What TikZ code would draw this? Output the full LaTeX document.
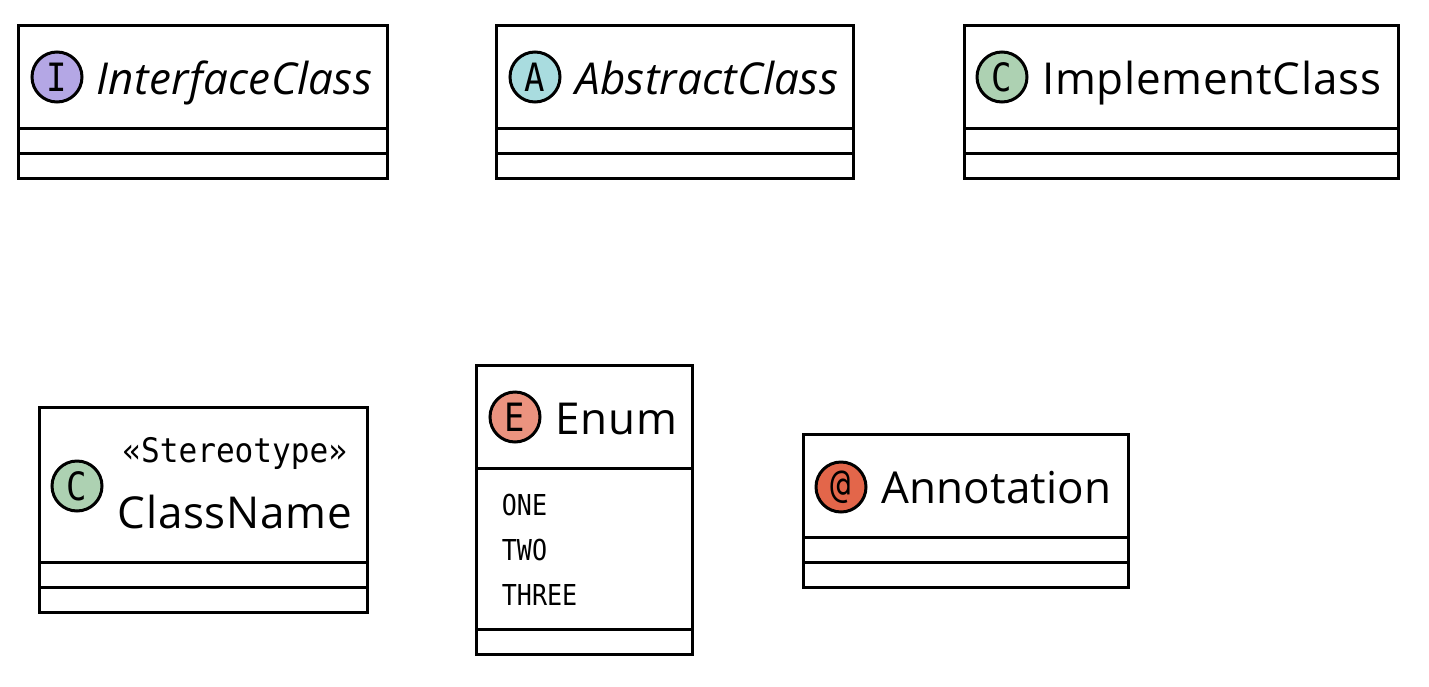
\documentclass[tikz,border=0pt]{standalone}
\usepackage{fontspec}
\setmainfont{Open Sans}
\setmonofont{DejaVu Sans Mono}
\newfontfamily\narrowmono[FakeStretch=0.92]{DejaVu Sans Mono}
\newfontfamily\slimmono[FakeStretch=0.87]{DejaVu Sans Mono}
\definecolor{ifacefill}{HTML}{B4A7E5}
\definecolor{absfill}{HTML}{A9DCDF}
\definecolor{implfill}{HTML}{ADD1B2}
\definecolor{enumfill}{HTML}{EB937F}
\definecolor{annofill}{HTML}{E3664A}
\newcommand{\tracked}[2]{\addfontfeature{LetterSpace=#1}#2}
\tikzset{
  classbox/.style={draw=black,line width=1.5pt},
  spot/.style={circle,draw=black,line width=1.5pt,minimum size=25pt,inner sep=0pt,font=\fontsize{19.5}{19.5}\selectfont\slimmono},
  title/.style={anchor=base west,inner sep=0pt,font=\fontsize{22}{22}\selectfont},
  small/.style={anchor=base west,inner sep=0pt,font=\fontsize{14.4}{14.4}\selectfont\slimmono}
}
\begin{document}
\begin{tikzpicture}[x=0.5pt,y=-0.5pt]
\useasboundingbox (0,0) rectangle (1429,686);
% boxes, with their rules
\foreach \xa/\xb/\ya/\yb/\yc/\yd in {18/387/25/128/153/178,496/853/25/128/153/178,964.5/1398/25/128/153/178,39.5/367/407/562/587/612,476.5/692/365/468/629/654,803/1128.5/434/537/562/587}
{
    \draw[classbox] (\xa,\ya) rectangle (\xb,\yd);
    \draw[classbox] (\xa,\yb) -- (\xb,\yb);
    \draw[classbox] (\xa,\yc) -- (\xb,\yc);
}
% spots
\node[spot,fill=ifacefill] (ispot) at (57,77) {I};
\node[spot,fill=absfill] (aspot) at (535,77) {A};
\node[spot,fill=implfill] (cspot) at (1002,77) {C};
\node[spot,fill=implfill] (sspot) at (77,486) {C};
\node[spot,fill=enumfill] (espot) at (515,417) {E};
\node[spot,fill=annofill] (atspot) at (841,487) {@};
% names
\node[title,font=\fontsize{22}{22}\selectfont\itshape] (iname) at (96,94) {\tracked{0.8}{InterfaceClass}};
\node[title,font=\fontsize{22}{22}\selectfont\itshape] (aname) at (575,94) {\tracked{0.5}{AbstractClass}};
\node[title] (cname) at (1042,94) {\tracked{1.6}{ImplementClass}};
\node[title] (sname) at (117.5,528) {\tracked{1.5}{ClassName}};
\node[title] (ename) at (555,434) {\tracked{1.7}{Enum}};
\node[title] (atname) at (881,503) {\tracked{0.4}{Annotation}};
% small text
\node[small,font=\fontsize{16.9}{16.9}\selectfont\narrowmono] (stereo) at (122,462) {«Stereotype»};
\node[small] (one) at (501.5,515) {ONE};
\node[small] (two) at (501.5,560) {TWO};
\node[small] (three) at (501.5,605) {THREE};
\end{tikzpicture}
\end{document}
